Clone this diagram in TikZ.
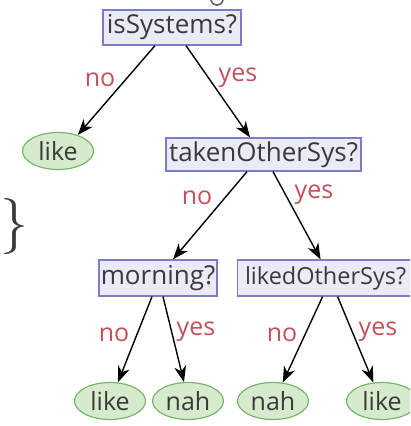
\documentclass[tikz,border=0pt]{standalone}
\usepackage{fontspec}
\setmainfont{Open Sans}
\newfontfamily\bracefont{Latin Modern Roman}
\usetikzlibrary{arrows.meta,shapes.geometric}
\definecolor{boxfill}{HTML}{EBEBF8}
\definecolor{boxline}{HTML}{7C7CC8}
\definecolor{leaffill}{HTML}{D6EBCE}
\definecolor{leafline}{HTML}{7AB46C}
\definecolor{lblred}{HTML}{C4505C}
\definecolor{txt}{HTML}{3A3A3A}
\tikzset{
  qbox/.style={draw=boxline, fill=boxfill, line width=1.2pt, rectangle, inner sep=0pt,
    text=txt, font=\fontsize{26}{26}\selectfont},
  leaf/.style={draw=leafline, fill=leaffill, line width=1.2pt, ellipse, inner sep=0pt,
    minimum width=71pt, minimum height=37pt, text=txt, font=\fontsize{25}{25}\selectfont},
  edge/.style={draw=black, line width=1.4pt, -{Stealth[length=16pt,width=12pt,inset=5pt]}},
  lbl/.style={text=lblred, font=\fontsize{25}{25}\selectfont, inner sep=0pt}
}
\begin{document}
\begin{tikzpicture}[x=1pt,y=-1pt]
\useasboundingbox (0,0) rectangle (410,426);
\clip (0,0) rectangle (410,426);
% partial arc at top edge
\draw[txt!80, line width=1.6pt] (211,0) .. controls (213,7) and (221,7) .. (223,0);
% brace
\node[text=txt, font=\bracefont\fontsize{56}{56}\selectfont, inner sep=0pt, anchor=west] (brace) at (0,226) {\}};
% question boxes
\node[qbox, minimum width=138pt, minimum height=35pt] (isS) at (172,27.5) {isSystems?};
\node[qbox, minimum width=195pt, minimum height=33pt] (taken) at (263.5,154.5) {takenOtherSys?};
\node[qbox, minimum width=118pt, minimum height=36pt] (morn) at (158,278) {morning?};
\node[qbox, minimum width=186pt, minimum height=36pt, anchor=west, font=\fontsize{23.5}{23.5}\selectfont] (liked) at (237,278) {\hspace*{-10pt}likedOtherSys?};
% leaves
\node[leaf] (like1) at (58,151) {like};
\node[leaf] (like2) at (110,401) {like};
\node[leaf] (nah1) at (188,401) {nah};
\node[leaf] (nah2) at (273,401) {nah};
\node[leaf] (like3) at (382,401) {like};
% edges
\draw[edge] ([xshift=-17pt]isS.south) -- (like1.39);
\draw[edge] ([xshift=14pt]isS.south) -- ([xshift=-13.5pt]taken.north);
\draw[edge] ([xshift=-16.5pt]taken.south) -- ([xshift=15pt]morn.north);
\draw[edge] ([xshift=9.5pt]taken.south) -- ([xshift=-10pt]liked.north);
\draw[edge] ([xshift=-6pt]morn.south) -- (like2.67);
\draw[edge] ([xshift=5pt]morn.south) -- (nah1.102);
\draw[edge] ([xshift=-8pt]liked.south) -- (nah2.62);
\draw[edge] ([xshift=7pt]liked.south) -- (like3.115);
% labels
\node[lbl] (l1) at (100,80) {no};
\node[lbl] (l2) at (238,78) {yes};
\node[lbl] (l3) at (197,198) {no};
\node[lbl] (l4) at (314,195) {yes};
\node[lbl] (l5) at (114,335) {no};
\node[lbl] (l6) at (196,332) {yes};
\node[lbl] (l7) at (282,335) {no};
\node[lbl] (l8) at (378,332) {yes};
\end{tikzpicture}
\end{document}
